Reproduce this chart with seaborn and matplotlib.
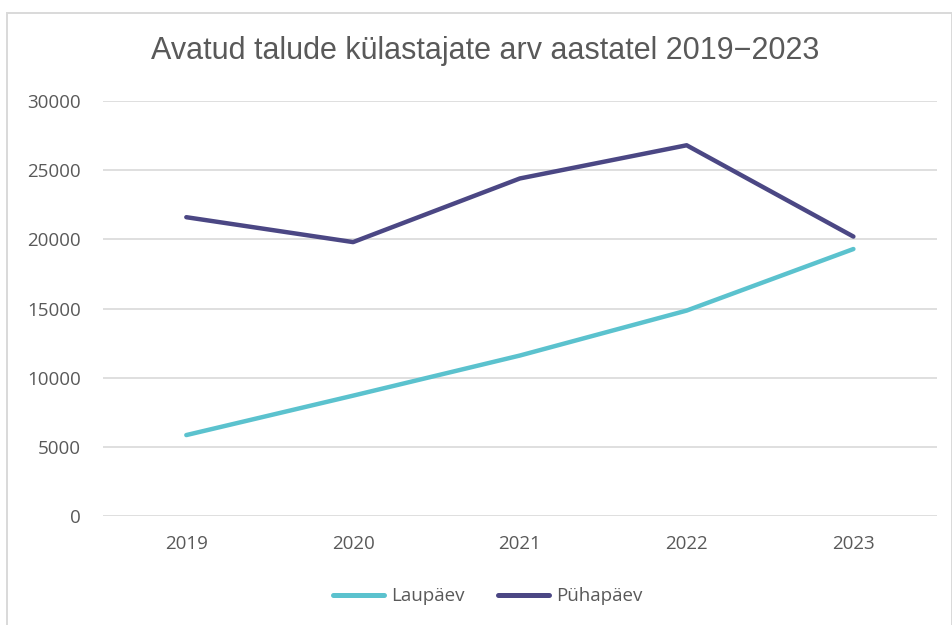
import pandas as pd
import numpy as np
import matplotlib
matplotlib.use("Agg")
import matplotlib.pyplot as plt
import seaborn as sns
from matplotlib.patches import Rectangle

# data
years = ["2019", "2020", "2021", "2022", "2023"]
laupaev = [5850, 8700, 11600, 14850, 19300]
puhapaev = [21600, 19800, 24400, 26800, 20200]
series = ["Laupäev", "Pühapäev"]
colors = ["#5BC2CE", "#4B4784"]

df = pd.DataFrame({
    "aasta": years * 2,
    "kulastajad": laupaev + puhapaev,
    "paev": [series[0]] * len(years) + [series[1]] * len(years),
})

sns.set_style("white")
plt.rcParams['font.family'] = ['Open Sans', 'DejaVu Sans']

fig = plt.figure(figsize=(9.53, 6.25), dpi=100)
ax = fig.add_axes([0.108, 0.1744, 0.875, 0.6640])

sns.lineplot(data=df, x="aasta", y="kulastajad", hue="paev", palette=colors,
             linewidth=3.2, ax=ax, legend=False, sort=False)

ax.set_ylim(0, 30000)
ax.set_xlim(-0.5, len(years) - 0.5)
ax.set_yticks(np.arange(0, 30001, 5000))
ax.yaxis.grid(True, color="#D9D9D9", linewidth=1.2)
ax.set_axisbelow(True)
for s in ax.spines.values():
    s.set_visible(False)
ax.tick_params(axis="both", length=0, labelsize=13.5, labelcolor="#595959")
ax.tick_params(axis="y", pad=16)
ax.tick_params(axis="x", pad=14)
ax.set_xlabel("")
ax.set_ylabel("")

fig.text(0.509, 0.918, "Avatud talude külastajate arv aastatel 2019\u22122023",
         ha="center", va="center", fontsize=22, color="#595959",
         family=["Liberation Sans", "DejaVu Sans"])

handles = [plt.Line2D([], [], color=c, linewidth=3.6, solid_capstyle="round") for c in colors]
fig.legend(handles, series, loc="center", bbox_to_anchor=(0.512, 0.046), ncol=2,
           frameon=False, fontsize=13.5, labelcolor="#595959", handlelength=2.7,
           columnspacing=1.8, handletextpad=0.4)

# light outer frame like the chart area border
fig.patches.append(Rectangle((0.007, -0.01), 0.992, 0.99, transform=fig.transFigure,
                             fill=False, edgecolor="#D9D9D9", linewidth=1.4))

fig.savefig("out.png", dpi=100)
